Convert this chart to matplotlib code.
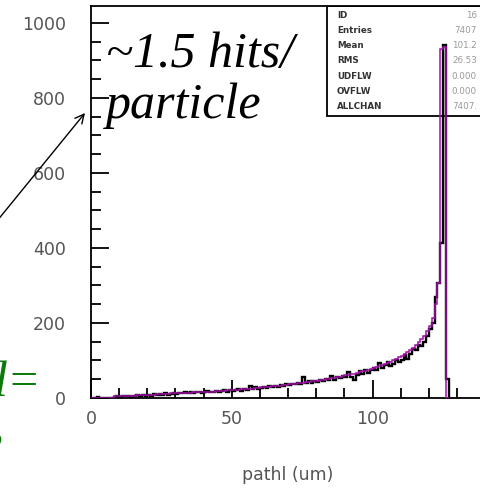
import numpy as np
import matplotlib
matplotlib.use("Agg")
import matplotlib.pyplot as plt
from matplotlib.patches import Rectangle

# ---- data ----
bin_edges = np.arange(0, 128, 1.0)  # 127 bins of 1 um
data_counts = [
    0, 0, 3, 0, 0, 0, 0, 0,
    3, 4, 2, 5, 4, 6, 3, 5, 7, 6, 8, 5,
    9, 6, 10, 8, 11, 7, 12, 9, 10, 13,
    11, 14, 12, 15, 13, 16, 14, 15, 17, 14,
    16, 18, 15, 17, 19, 16, 18, 20, 17, 22,
    19, 21, 23, 18, 24, 22, 33, 25, 28, 23,
    27, 30, 26, 31, 29, 33, 30, 35, 32, 36,
    34, 38, 36, 40, 37, 55, 39, 44, 41, 46,
    43, 48, 45, 50, 47, 58, 49, 56, 52, 58,
    55, 68, 57, 48, 60, 72, 63, 75, 66, 75,
    79, 74, 92, 80, 88, 95, 85, 90, 101, 97,
    100, 115, 104, 118, 130, 128, 142, 138, 150, 165,
    185, 200, 270, 306, 413, 940, 50,
]
fit_counts = [
    0, 0, 0, 0, 0, 0, 0, 0,
    4, 4, 5, 5, 5, 6, 6, 6, 7, 7, 7, 8,
    8, 9, 9, 10, 10, 10, 11, 11, 12, 12,
    12, 13, 13, 14, 14, 14, 15, 15, 15, 16,
    16, 17, 17, 17, 18, 18, 19, 19, 20, 20,
    21, 21, 22, 23, 23, 24, 25, 25, 26, 27,
    28, 28, 29, 30, 31, 32, 33, 33, 34, 35,
    36, 37, 38, 39, 40, 41, 42, 43, 44, 45,
    46, 47, 48, 50, 51, 52, 54, 55, 57, 58,
    60, 61, 63, 65, 67, 69, 71, 73, 75, 78,
    80, 83, 85, 88, 91, 94, 97, 101, 105, 109,
    113, 118, 123, 128, 134, 140, 148, 156, 166, 178,
    192, 212, 250, 306, 930, 935, 0,
]
y_ticks = [0, 200, 400, 600, 800, 1000]
x_ticks = [0, 50, 100]
stat_labels = ["ID", "Entries", "Mean", "RMS", "UDFLW", "OVFLW", "ALLCHAN"]
stat_values = ["16", "7407", "101.2", "26.53", "0.000", "0.000", "7407."]

W, H = 481, 492
fig = plt.figure(figsize=(W / 100, H / 100), dpi=100)
fig.patch.set_facecolor("white")

ax_left, ax_bottom, ax_top = 91, 398, 6
x_max = 150
px_per_unit = 2.816
ax = fig.add_axes([ax_left / W, (H - ax_bottom) / H,
                   x_max * px_per_unit / W, (ax_bottom - ax_top) / H])
ax.set_xlim(0, x_max)
ax.set_ylim(0, 1045)

ax.stairs(data_counts, bin_edges, color="black", lw=1.7, zorder=3)
ax.stairs(fit_counts, bin_edges, color="#a010a8", lw=1.1, zorder=4)

for s in ax.spines.values():
    s.set_linewidth(1.3)
    s.set_color("black")

tick_color = "#555555"
ax.set_yticks(y_ticks)
ax.set_yticks(np.arange(0, 1050, 50), minor=True)
ax.set_xticks(x_ticks)
ax.set_xticks(np.arange(0, 151, 10), minor=True)
ax.tick_params(axis="both", which="major", direction="in", length=13,
               width=1.3, color="black", labelcolor=tick_color, labelsize=12.5)
ax.tick_params(axis="both", which="minor", direction="in", length=7.5,
               width=1.3, color="black")
ax.tick_params(axis="y", which="major", pad=18)
ax.tick_params(axis="x", which="major", pad=9)
for lab in ax.get_xticklabels() + ax.get_yticklabels():
    lab.set_fontfamily("DejaVu Sans")

fig.text(288 / W, 1 - 475 / H, "pathl (um)", ha="center", va="center",
         fontsize=12.5, color=tick_color, family="DejaVu Sans")

# stats box
box = Rectangle((327 / W, 1 - 116 / H), 200 / W, 110 / H,
                transform=fig.transFigure, facecolor="white",
                edgecolor="black", lw=1.3, zorder=2.5)
ax.add_patch(box)
for i, (lab, val) in enumerate(zip(stat_labels, stat_values)):
    yy = 1 - (15 + i * 15.3) / H
    ax.text(337 / W, yy, lab, transform=fig.transFigure, ha="left",
            va="center", fontsize=6.3, color="#333333", zorder=2.6,
            family="DejaVu Sans", fontweight="bold")
    ax.text(477 / W, yy, val, transform=fig.transFigure, ha="right",
            va="center", fontsize=6.3, color="#999999", zorder=2.6,
            family="DejaVu Sans")

# annotation text
serif = ["Liberation Serif", "DejaVu Serif"]
fig.text(106 / W, 1 - 67 / H, "~1.5 hits/", ha="left", va="baseline",
         fontsize=36, style="italic", family=serif, color="black")
fig.text(106 / W, 1 - 118 / H, "particle", ha="left", va="baseline",
         fontsize=36, style="italic", family=serif, color="black")
ax.annotate("", xy=(85, H - 113), xytext=(-3, H - 221),
            xycoords="figure pixels", textcoords="figure pixels",
            arrowprops=dict(arrowstyle="->", lw=1.0, color="black",
                            mutation_scale=16, shrinkA=0, shrinkB=0),
            annotation_clip=False)

green = "#0a7a0a"
fig.text(-7 / W, 1 - 396 / H, "l=", ha="left", va="baseline",
         fontsize=36, style="italic", family=serif, color=green)
fig.text(-9 / W, 1 - 440 / H, ",", ha="left", va="baseline",
         fontsize=36, style="italic", family=serif, color=green)

fig.savefig("out.png", dpi=100)
